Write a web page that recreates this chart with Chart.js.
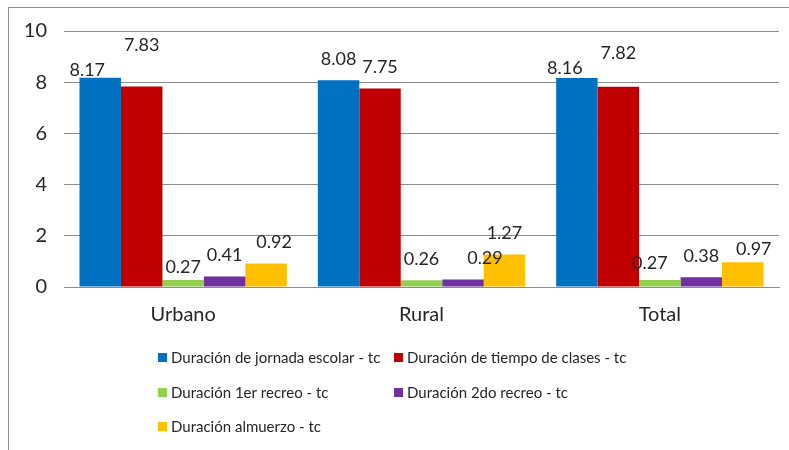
<!DOCTYPE html>
<html>
<head>
<meta charset="utf-8">
<script src="https://cdn.jsdelivr.net/npm/chart.js@4.4.0/dist/chart.umd.min.js"></script>
<style>
  html, body { margin: 0; padding: 0; background: #fff; }
  #wrap { position: relative; width: 789px; height: 450px; }
  #frame { position: absolute; left: 8px; top: 7px; right: 0; bottom: 0;
           border-left: 1px solid #8c8c8c; border-top: 1px solid #8c8c8c; }
  canvas { position: absolute; left: 0; top: 0; }
</style>
</head>
<body>
<div id="wrap">
  <div id="frame"></div>
  <canvas id="chart" width="789" height="450"></canvas>
</div>
<script>
const categories = ['Urbano', 'Rural', 'Total'];
const yTicks = [0, 2, 4, 6, 8, 10];

const jornada = [8.17, 8.08, 8.16];
const clases = [7.83, 7.75, 7.82];
const recreo1 = [0.27, 0.26, 0.27];
const recreo2 = [0.41, 0.29, 0.38];
const almuerzo = [0.92, 1.27, 0.97];

const seriesNames = [
  'Duración de jornada escolar - tc',
  'Duración de tiempo de clases - tc',
  'Duración 1er recreo - tc',
  'Duración 2do recreo - tc',
  'Duración almuerzo - tc'
];
const colors = ['#0070C0', '#C00000', '#92D050', '#7030A0', '#FFC000'];

// label nudges (dx, dy) per series / category, like the hand-moved labels in the original
const labelNudge = [
  [[-13, 13], [0, 0], [-12, 11]],
  [[0, -20], [0, 0], [0, -13]],
  [[0, 8], [0, 0], [-10, 4]],
  [[0, 0], [22, 0], [0, 0]],
  [[8, 0], [0, 0], [11, 8]]
];

const FONT = 'Lato, "Open Sans", sans-serif';

const valueLabels = {
  id: 'valueLabels',
  afterDatasetsDraw(chart) {
    const ctx = chart.ctx;
    ctx.save();
    ctx.font = '18px ' + FONT;
    ctx.fillStyle = '#262626';
    ctx.textAlign = 'center';
    ctx.textBaseline = 'middle';
    chart.data.datasets.forEach((ds, i) => {
      chart.getDatasetMeta(i).data.forEach((bar, j) => {
        const n = labelNudge[i][j];
        ctx.fillText(ds.data[j].toFixed(2), bar.x + n[0], bar.y - 21 + n[1]);
      });
    });
    ctx.restore();
  }
};

const sideLegend = {
  id: 'sideLegend',
  afterDraw(chart) {
    const ctx = chart.ctx;
    ctx.save();
    ctx.font = '15px ' + FONT;
    ctx.textBaseline = 'middle';
    const colX = [158, 394];
    const rowY = [358, 393, 427];
    chart.data.datasets.forEach((ds, i) => {
      const x = colX[i % 2];
      const y = rowY[Math.floor(i / 2)];
      ctx.fillStyle = ds.backgroundColor;
      ctx.fillRect(x, y - 5, 9, 9);
      ctx.fillStyle = '#262626';
      ctx.fillText(ds.label, x + 13, y);
    });
    ctx.restore();
  }
};

const series = [jornada, clases, recreo1, recreo2, almuerzo];

new Chart(document.getElementById('chart'), {
  type: 'bar',
  data: {
    labels: categories,
    datasets: series.map((d, i) => ({
      label: seriesNames[i],
      data: d,
      backgroundColor: colors[i],
      categoryPercentage: 0.87,
      barPercentage: 1.0
    }))
  },
  options: {
    responsive: false,
    animation: false,
    layout: { padding: { left: 0, right: 10, top: 31, bottom: 123 } },
    plugins: {
      legend: { display: false },
      tooltip: { enabled: false }
    },
    scales: {
      x: {
        grid: { display: false },
        border: { color: '#8c8c8c' },
        ticks: { color: '#262626', font: { family: FONT, size: 20 }, padding: 8 },
        afterFit: (s) => { s.height = 40; }
      },
      y: {
        min: 0,
        max: 10,
        afterBuildTicks: (s) => { s.ticks = yTicks.map(v => ({ value: v })); },
        grid: { color: '#8c8c8c', drawTicks: false },
        border: { display: false },
        ticks: { color: '#262626', font: { family: FONT, size: 20 }, padding: 17 },
        afterFit: (s) => { s.width = 64; }
      }
    }
  },
  plugins: [valueLabels, sideLegend]
});
</script>
</body>
</html>
